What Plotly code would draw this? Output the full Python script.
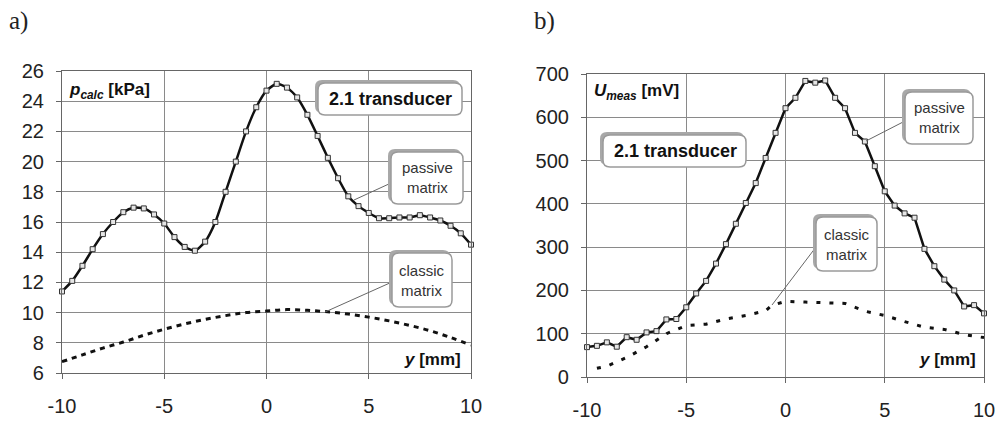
import plotly.graph_objects as go

# ---------------- data ----------------
y_pos = [-10, -9.5, -9, -8.5, -8, -7.5, -7, -6.5, -6, -5.5, -5, -4.5, -4, -3.5, -3, -2.5,
         -2, -1.5, -1, -0.5, 0, 0.5, 1, 1.5, 2, 2.5, 3, 3.5, 4, 4.5, 5, 5.5, 6, 6.5, 7,
         7.5, 8, 8.5, 9, 9.5, 10]

p_calc_passive = [11.4, 12.1, 13.1, 14.2, 15.2, 16.0, 16.65, 16.95, 16.9, 16.5, 15.9, 15.0,
                  14.35, 14.1, 14.7, 16.0, 18.0, 20.0, 22.0, 23.6, 24.7, 25.15, 24.9, 24.25,
                  23.1, 21.7, 20.25, 18.9, 17.7, 17.05, 16.6, 16.25, 16.25, 16.3, 16.3,
                  16.45, 16.3, 16.1, 15.75, 15.25, 14.5]

y_classic_a = [-10, -9, -8, -7, -6, -5, -4, -3, -2, -1, 0, 1, 2, 3, 4, 5, 6, 7, 8, 9, 10]
p_calc_classic = [6.75, 7.2, 7.65, 8.05, 8.5, 8.9, 9.25, 9.55, 9.8, 10.0, 10.1, 10.2, 10.15,
                  10.05, 9.9, 9.7, 9.45, 9.15, 8.8, 8.35, 7.85]

u_meas_passive = [69, 72, 80, 70, 92, 86, 103, 106, 133, 134, 161, 193, 222, 262, 307, 354,
                  402, 448, 506, 564, 621, 645, 684, 680, 685, 645, 621, 564, 544, 487, 429,
                  396, 378, 368, 296, 256, 225, 200, 163, 166, 147]

y_classic_b = [-9.5, -9, -8, -7, -6, -5, -4, -3, -2, -1, -0.7, 0, 1, 2, 3, 4, 5, 6, 7, 8, 9, 10]
u_meas_classic = [20, 25, 45, 70, 100, 119, 122, 134, 142, 153, 165, 175, 173, 171, 170, 152,
                  142, 128, 115, 110, 98, 91]

xticks = [-10, -5, 0, 5, 10]
xticklabels = ["-10", "-5", "0", "5", "10"]
yticks_a = [6, 8, 10, 12, 14, 16, 18, 20, 22, 24, 26]
yticks_b = [0, 100, 200, 300, 400, 500, 600, 700]

# ---------------- layout helpers (pixels -> paper) ----------------
W, H = 997, 423
def PX(x):
    return x / W
def PY(y):
    return 1 - y / H

FONT = "Liberation Sans, Arial, sans-serif"

fig = go.Figure()

marker = dict(symbol="square", size=5, color="#e6e6e6", line=dict(color="#333", width=1))

fig.add_trace(go.Scatter(x=y_pos, y=p_calc_passive, mode="lines+markers",
                         line=dict(color="#111", width=2.5, shape="spline", smoothing=0.6),
                         marker=marker, cliponaxis=False, xaxis="x", yaxis="y", showlegend=False))
fig.add_trace(go.Scatter(x=y_classic_a, y=p_calc_classic, mode="lines",
                         line=dict(color="#111", width=3, dash="5px,5px", shape="spline"),
                         xaxis="x", yaxis="y", showlegend=False))
fig.add_trace(go.Scatter(x=y_pos, y=u_meas_passive, mode="lines+markers",
                         line=dict(color="#111", width=2.5),
                         marker=marker, cliponaxis=False, xaxis="x2", yaxis="y2", showlegend=False))
fig.add_trace(go.Scatter(x=y_classic_b, y=u_meas_classic, mode="lines",
                         line=dict(color="#111", width=3, dash="4px,9px"),
                         xaxis="x2", yaxis="y2", showlegend=False))

axis_common = dict(showgrid=True, gridcolor="#8a8a8a", gridwidth=1, showline=True,
                   linecolor="#666", linewidth=1.2, mirror=True, ticks="outside",
                   ticklen=5, tickcolor="#666", zeroline=False, automargin=False,
                   tickfont=dict(family=FONT, size=20, color="#222"))

fig.update_layout(
    width=W, height=H, margin=dict(l=0, r=0, t=0, b=0, autoexpand=False),
    paper_bgcolor="white", plot_bgcolor="white",
    xaxis=dict(domain=[62 / W, 471 / W], range=[-10, 10], tickvals=xticks, ticktext=xticklabels,
               anchor="y", ticklabelstandoff=10, **axis_common),
    yaxis=dict(domain=[1 - 373 / H, 1 - 71 / H], range=[6, 26], tickvals=yticks_a, anchor="x",
               ticklabelstandoff=8, **axis_common),
    xaxis2=dict(domain=[587 / W, 984 / W], range=[-10, 10], tickvals=xticks, ticktext=xticklabels,
                anchor="y2", ticklabelstandoff=10, **axis_common),
    yaxis2=dict(domain=[1 - 377 / H, 1 - 74 / H], range=[0, 700], tickvals=yticks_b, anchor="x2",
                ticklabelstandoff=8, **axis_common),
)

shapes = []
def rrect(x0, y0, x1, y1, r, fill, line_color, lw):
    p = (f"M {PX(x0+r)},{PY(y0)} L {PX(x1-r)},{PY(y0)} Q {PX(x1)},{PY(y0)} {PX(x1)},{PY(y0+r)} "
         f"L {PX(x1)},{PY(y1-r)} Q {PX(x1)},{PY(y1)} {PX(x1-r)},{PY(y1)} "
         f"L {PX(x0+r)},{PY(y1)} Q {PX(x0)},{PY(y1)} {PX(x0)},{PY(y1-r)} "
         f"L {PX(x0)},{PY(y0+r)} Q {PX(x0)},{PY(y0)} {PX(x0+r)},{PY(y0)} Z")
    shapes.append(dict(type="path", path=p, xref="paper", yref="paper", fillcolor=fill,
                       line=dict(color=line_color, width=lw), layer="above"))

def box(x0, y0, x1, y1):
    rrect(x0 - 3, y0 - 3, x1 - 2, y1 - 2, 7, "#a8a8a8", "#a8a8a8", 0)
    rrect(x0, y0, x1, y1, 7, "white", "#9a9a9a", 1.5)

def leader(x0, y0, x1, y1):
    shapes.append(dict(type="line", x0=PX(x0), y0=PY(y0), x1=PX(x1), y1=PY(y1),
                       xref="paper", yref="paper", line=dict(color="#666", width=1), layer="above"))

# leaders
leader(391, 183, 354, 200)
leader(392, 282, 325, 312)
leader(905, 121, 866, 141)
leader(816, 247, 772, 305)

# boxes
box(318, 83, 462, 115)
box(391, 152, 463, 204)
box(392, 253, 452, 307)
box(603, 135, 746, 167)
box(905, 92, 973, 144)
box(816, 217, 877, 271)

fig.update_layout(shapes=shapes)

ann = []
def text(x, y, t, size=16, anchor="center", family=FONT, color="#111"):
    ann.append(dict(x=PX(x), y=PY(y), xref="paper", yref="paper", text=t, showarrow=False,
                    xanchor=anchor, yanchor="middle", font=dict(family=family, size=size, color=color)))

text(18, 21, "a)", size=25, family="Liberation Serif, DejaVu Serif, serif", color="#222")
text(544, 21, "b)", size=25, family="Liberation Serif, DejaVu Serif, serif", color="#222")

text(67, 91, "<b><i>p</i><sub><i>calc</i></sub> [kPa]</b>", size=17, anchor="left")
text(592, 92, "<b><i>U</i><sub><i>meas</i></sub> [mV]</b>", size=17, anchor="left")
text(463, 359, "<b><i>y</i> [mm]</b>", size=17, anchor="right")
text(978, 359, "<b><i>y</i> [mm]</b>", size=17, anchor="right")

text(390, 99, "<b>2.1 transducer</b>", size=18)
text(675, 151, "<b>2.1 transducer</b>", size=18)
text(427, 178, "passive<br>matrix", size=15, color="#333")
text(422, 280, "classic<br>matrix", size=15, color="#333")
text(939, 118, "passive<br>matrix", size=15, color="#333")
text(846.5, 244, "classic<br>matrix", size=15, color="#333")

fig.update_layout(annotations=ann)

fig.write_html("out.html", config={"displayModeBar": False},
               post_script="document.body.style.margin='0';document.body.style.overflow='hidden';")
